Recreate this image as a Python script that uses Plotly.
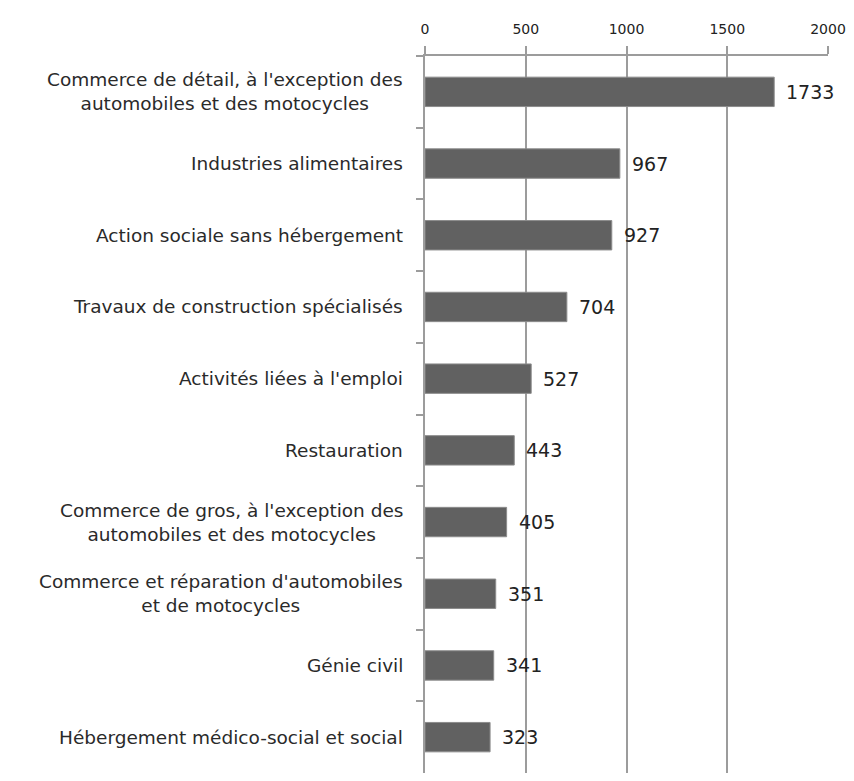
import plotly.graph_objects as go

categories = [
    "Commerce de détail, à l'exception des<br>automobiles et des motocycles",
    "Industries alimentaires",
    "Action sociale sans hébergement",
    "Travaux de construction spécialisés",
    "Activités liées à l'emploi",
    "Restauration",
    "Commerce de gros, à l'exception des<br>automobiles et des motocycles",
    "Commerce et réparation d'automobiles<br>et de motocycles",
    "Génie civil",
    "Hébergement médico-social et social",
]
values = [1733, 967, 927, 704, 527, 443, 405, 351, 341, 323]
x_ticks = [0, 500, 1000, 1500, 2000]

FONT = "DejaVu Sans"
GRID = "#9c9c9c"

fig = go.Figure()
fig.add_trace(go.Bar(
    x=values, y=categories, orientation="h", width=0.41,
    marker=dict(color="#616161", line=dict(color="#8c8c8c", width=1)),
    hoverinfo="skip",
))

for c, v in zip(categories, values):
    fig.add_annotation(x=v, y=c, xref="x", yref="y", text=str(v), showarrow=False,
                       xanchor="left", xshift=10, font=dict(family=FONT, size=19, color="#222"))
    fig.add_annotation(x=0, y=c, xref="paper", yref="y", text=c, showarrow=False,
                       xanchor="right", xshift=-20, align="center",
                       font=dict(family=FONT, size=18.5, color="#2a2a2a"))

# page has an 8px body margin, so the figure is sized to fit the window without scrolling
fig.update_layout(
    width=846, height=765, margin=dict(l=417, r=26, t=48, b=0),
    plot_bgcolor="white", paper_bgcolor="white", showlegend=False,
)
fig.update_xaxes(side="top", range=[0, 2000], tickvals=x_ticks,
                 showgrid=True, gridcolor=GRID, gridwidth=1.5,
                 showline=True, linecolor=GRID, linewidth=1.5,
                 ticks="outside", ticklen=8, tickcolor=GRID, tickwidth=1.5,
                 ticklabelstandoff=7, ticklabeloverflow="allow",
                 tickfont=dict(family=FONT, size=14, color="#222"), zeroline=False)
fig.update_yaxes(autorange="reversed", showticklabels=False, showgrid=False,
                 showline=True, linecolor=GRID, linewidth=1.5,
                 ticks="outside", tickson="boundaries", ticklen=7, tickcolor=GRID, tickwidth=1.5)

fig.write_html("out.html")
